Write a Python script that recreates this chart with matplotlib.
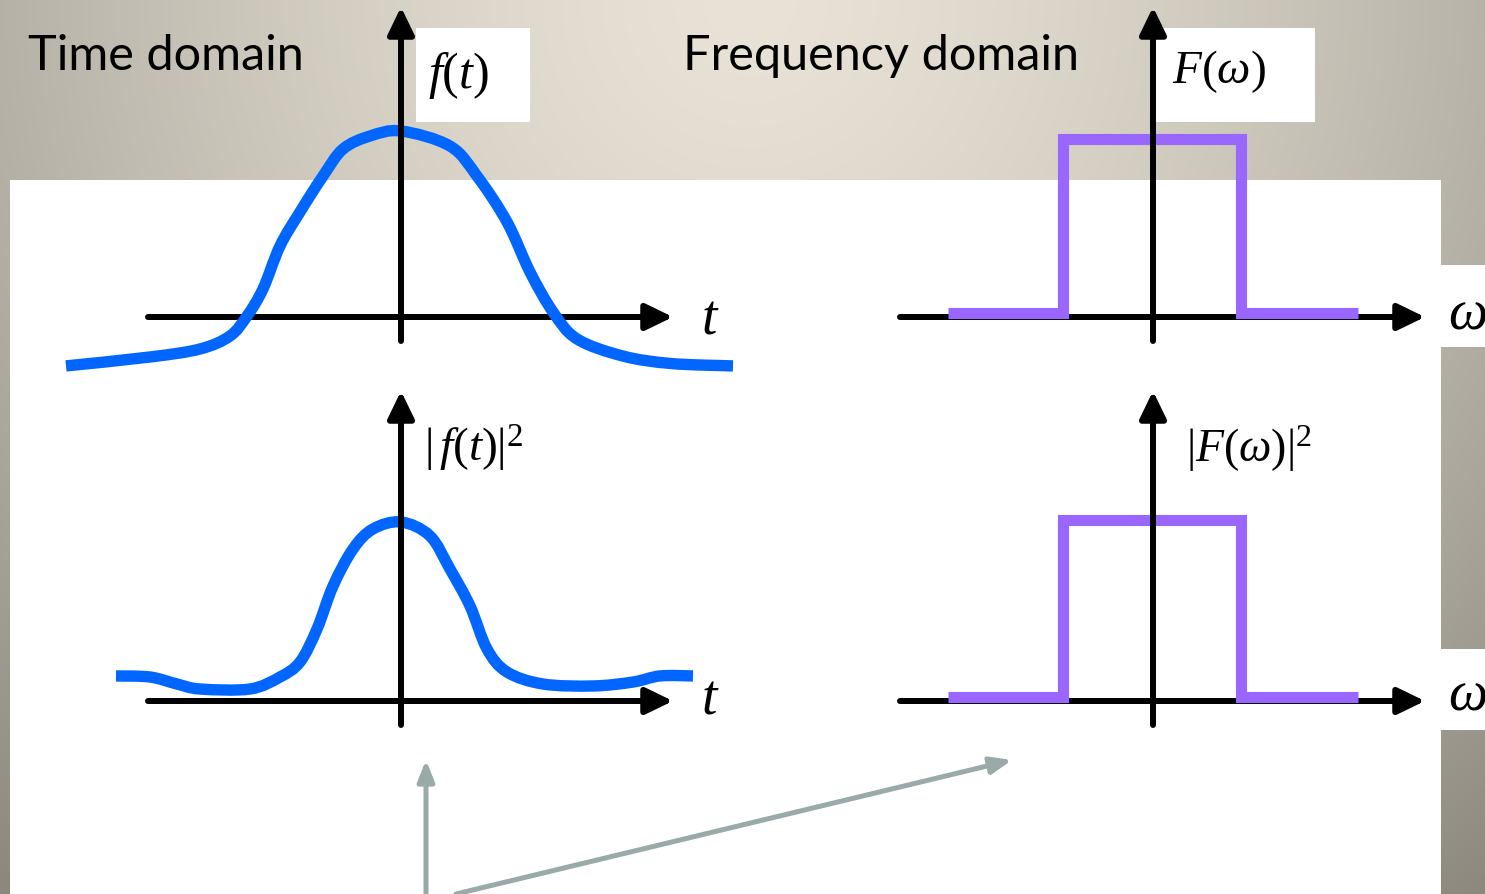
import numpy as np
import matplotlib.pyplot as plt
from matplotlib.patches import Rectangle, PathPatch
from matplotlib.path import Path

plt.rcParams['mathtext.fontset'] = 'custom'
plt.rcParams['mathtext.rm'] = 'Liberation Serif'
plt.rcParams['mathtext.it'] = 'Liberation Serif:italic'

# f(t): time in units of 100 px, amplitude normalised to the peak
t_top = [-3.35, -2.51, -2.01, -1.71, -1.54, -1.38, -1.21, -1.01, -0.78, -0.58, -0.31, 0.0,
         0.49, 0.76, 1.06, 1.29, 1.52, 1.76, 2.22, 2.70, 3.32]
f_top = [-0.263, -0.215, -0.172, -0.102, 0.005, 0.151, 0.382, 0.565, 0.758, 0.903, 0.973, 1.0,
         0.919, 0.758, 0.511, 0.242, 0.027, -0.118, -0.210, -0.250, -0.263]

# |f(t)|^2
t_bot = [-2.85, -2.51, -2.24, -2.01, -1.51, -1.21, -1.01, -0.84, -0.68, -0.48, -0.28, 0.0,
         0.29, 0.49, 0.69, 0.86, 1.06, 1.42, 1.92, 2.32, 2.59, 2.92]
f_bot = [0.140, 0.134, 0.095, 0.067, 0.067, 0.134, 0.218, 0.402, 0.642, 0.849, 0.961, 1.0,
         0.922, 0.737, 0.531, 0.291, 0.162, 0.095, 0.084, 0.106, 0.140, 0.140]

# F(w) and |F(w)|^2 : rectangle spectrum
w_edges = [-2.05, -0.90, 0.88, 2.05]
F_vals = [0.02, 1.0, 0.02]
F2_vals = [0.02, 1.0, 0.02]

W, H = 1485, 895
blue = '#0066ff'
purple = '#9966ff'
grey = '#99aaa8'

fig = plt.figure(figsize=(W / 100, H / 100), dpi=100)
bg = fig.add_axes([0, 0, 1, 1])
bg.set_xlim(0, W)
bg.set_ylim(H, 0)
bg.axis('off')

# slide background: radial gradient from the top centre
yy, xx = np.mgrid[0:H, 0:W]
d = np.sqrt((xx - 750) ** 2 + (yy * 1.0) ** 2) / 1160
d = np.clip(d, 0, 1) ** 1.4
c0 = np.array([233, 227, 215]) / 255
c1 = np.array([140, 136, 126]) / 255
img = c0 + (c1 - c0) * d[..., None]
bg.imshow(img, extent=(0, W, H, 0), zorder=0)

# white panel and label boxes
for x, y, w, h in [(10, 181, 1431, 714), (1441, 266, 44, 82), (1441, 650, 44, 81),
                   (416, 29, 114, 94), (1155, 29, 160, 94)]:
    bg.add_patch(Rectangle((x, y), w, h, color='white', lw=0, zorder=1))

bg.text(28, 70, 'Time domain', fontsize=35, family='Lato', va='baseline', zorder=2)
bg.text(683, 70, 'Frequency domain', fontsize=35, family='Lato', va='baseline', zorder=2)

bg.text(428, 75, r'$f(t)$', fontsize=36, va='center', ha='left', zorder=2)
bg.text(1172, 72, r'$F(\omega)$', fontsize=34, va='center', ha='left', zorder=2)
bg.text(424, 449, r'$|\,f(t)|^2$', fontsize=34, va='center', ha='left', zorder=2)
bg.text(1186, 449, r'$|F(\omega)|^2$', fontsize=33, va='center', ha='left', zorder=2)
bg.text(710, 318, r'$t$', fontsize=40, va='center', ha='center', zorder=2)
bg.text(710, 698, r'$t$', fontsize=40, va='center', ha='center', zorder=2)
bg.text(1467, 313, r'$\omega$', fontsize=40, va='center', ha='center', zorder=2)
bg.text(1467, 695, r'$\omega$', fontsize=40, va='center', ha='center', zorder=2)

# grey arrows at the bottom
garrow = dict(arrowstyle='-|>,head_length=1.25,head_width=0.5', color=grey, lw=3.6,
              shrinkA=0, shrinkB=0)
bg.annotate('', xy=(426, 761), xytext=(426, 895), arrowprops=garrow, zorder=2)
bg.annotate('', xy=(1012, 761), xytext=(456, 895), arrowprops=garrow, zorder=2)

karrow = dict(arrowstyle='-|>,head_length=1.65,head_width=0.8', color='black', lw=4.3,
              shrinkA=0, shrinkB=0)


def panel(x0, y0, sx, sy):
    a = fig.add_axes([0, 0, 1, 1])
    a.set_xlim(-x0 / sx, (W - x0) / sx)
    a.set_ylim(-(H - y0) / sy, y0 / sy)
    a.axis('off')
    a.patch.set_alpha(0)
    # horizontal axis below the curve, vertical axis above it
    a.annotate('', xy=(x0 + 272, y0), xytext=(x0 - 253, y0), xycoords=bg.transData,
               textcoords=bg.transData, arrowprops=karrow, zorder=1)
    a.annotate('', xy=(x0, y0 - 310), xytext=(x0, y0 + 24), xycoords=bg.transData,
               textcoords=bg.transData, arrowprops=karrow, zorder=3)
    return a


def smooth(ax, x, y, **kw):
    # smooth curve through the read points (Catmull-Rom as Bezier)
    p = np.column_stack([x, y])
    n = len(p)
    verts = [p[0]]
    codes = [Path.MOVETO]
    for i in range(n - 1):
        pm = p[max(i - 1, 0)]
        pn = p[min(i + 2, n - 1)]
        verts += [p[i] + (p[i + 1] - pm) / 6, p[i + 1] - (pn - p[i]) / 6, p[i + 1]]
        codes += [Path.CURVE4] * 3
    ax.add_patch(PathPatch(Path(verts, codes), fill=False, **kw))


ax1 = panel(401, 318, 100, 186)
smooth(ax1, t_top, f_top, edgecolor=blue, lw=8.2, capstyle='butt', zorder=2)

ax2 = panel(401, 702, 100, 179)
smooth(ax2, t_bot, f_bot, edgecolor=blue, lw=8.2, capstyle='butt', zorder=2)

ax3 = panel(1153, 318, 100, 178)
ax3.stairs(F_vals, w_edges, baseline=None, color=purple, lw=8, zorder=2)

ax4 = panel(1153, 702, 100, 181)
ax4.stairs(F2_vals, w_edges, baseline=None, color=purple, lw=8, zorder=2)

for a in (ax3, ax4):
    for p in a.patches:
        p.set_joinstyle('miter')
        p.set_capstyle('butt')

plt.savefig('out.png', dpi=100)
